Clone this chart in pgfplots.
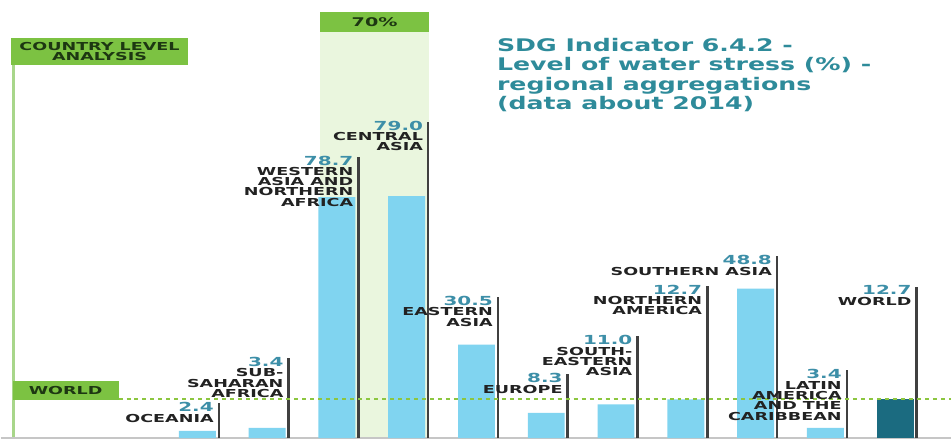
\documentclass[border=0pt]{standalone}
\usepackage{pgfplots}
\pgfplotsset{compat=1.18}
\usepackage{pgfplotstable}
\usepackage{fontspec}
\setmainfont{DejaVu Sans}
\newfontfamily\labfont{DejaVu Sans}[FakeStretch=1.6]
\newfontfamily\titfont{DejaVu Sans}[FakeStretch=1.45]
\definecolor{barblue}{RGB}{128,212,240}
\definecolor{worldbar}{RGB}{27,107,128}
\definecolor{boxgreen}{RGB}{124,194,66}
\definecolor{bandgreen}{RGB}{234,246,222}
\definecolor{polegreen}{RGB}{168,214,138}
\definecolor{dotgreen}{RGB}{140,198,63}
\definecolor{titteal}{RGB}{46,139,154}
\definecolor{numteal}{RGB}{61,143,168}
\definecolor{linegray}{RGB}{64,64,64}
\definecolor{labdark}{RGB}{34,34,34}
\definecolor{boxtext}{RGB}{29,55,18}

\pgfplotstableread{
x val top
0 2.4 11.4
1 3.4 26.1
2 78.7 91.9
3 79.0 103.3
4 30.5 46.0
5 8.3 20.8
6 11.0 33.2
7 12.7 49.8
8 48.8 59.3
9 3.4 22.1
}\regions
\pgfplotstableread{
x val top
10 12.7 49.5
}\world

\tikzset{lab/.style={anchor=north east, inner sep=0pt, align=right, xshift=-5pt, yshift=1pt,
  font=\labfont\bfseries\fontsize{11}{10.3}\selectfont, text=labdark}}
\newcommand{\num}[1]{{\fontsize{12.5}{10.3}\selectfont\color{numteal}#1}}

\begin{document}
\begin{tikzpicture}
\begin{axis}[scale only axis, width=952pt, height=441pt,
  xmin=-2.818, xmax=10.801, ymin=-0.651, ymax=143.0,
  axis lines=none, ticks=none, clip=false]
% background to fix bounding box
\fill[white] (rel axis cs:0,0) rectangle (rel axis cs:1,1);
% 70% band
\fill[bandgreen] (axis cs:1.76,0) rectangle (axis cs:3.32,132.6);
\fill[boxgreen] (axis cs:1.76,132.6) rectangle (axis cs:3.32,139.1);
\node[font=\labfont\bfseries\fontsize{12}{12}\selectfont, text=boxtext, inner sep=0]
  at (axis cs:2.54,135.85) {70\%};
% country level flag
\draw[polegreen, line width=3pt] (axis cs:-2.632,0) -- (axis cs:-2.632,125);
\fill[boxgreen] (axis cs:-2.675,121.8) rectangle (axis cs:-0.129,130.6);
\node[font=\labfont\bfseries\fontsize{11}{9.5}\selectfont, text=boxtext, inner sep=0, align=center]
  at (axis cs:-1.402,126.2) {COUNTRY LEVEL\\ANALYSIS};
% baseline
\draw[gray!45, line width=1.5pt] (axis cs:-2.818,0) -- (axis cs:10.801,0);
% bars
\addplot[ybar, bar width=37pt, bar shift=0pt, fill=barblue, draw=none] table[x=x,y=val]{\regions};
\addplot[ybar, bar width=37pt, bar shift=0pt, fill=worldbar, draw=none] table[x=x,y=val]{\world};
% vertical label lines
\addplot[ycomb, no markers, draw=linegray, line width=2.5pt] table[x expr=\thisrow{x}+0.308, y=top]{\regions};
\addplot[ycomb, no markers, draw=linegray, line width=2.5pt] table[x expr=\thisrow{x}+0.308, y=top]{\world};
% world level line and box
\addplot[dotgreen, line width=2pt, dash pattern=on 4pt off 4pt, no markers] coordinates {(-1.13,12.7) (10.801,12.7)};
\fill[boxgreen] (axis cs:-2.647,12.4) rectangle (axis cs:-1.130,18.6);
\node[font=\labfont\bfseries\fontsize{11}{11}\selectfont, text=boxtext, inner sep=0]
  at (axis cs:-1.888,15.5) {WORLD};
% labels
\node[lab] at (axis cs:0.308,11.4) {\num{2.4}\\OCEANIA};
\node[lab] at (axis cs:1.308,26.1) {\num{3.4}\\SUB-\\SAHARAN\\AFRICA};
\node[lab] at (axis cs:2.308,91.9) {\num{78.7}\\WESTERN\\ASIA AND\\NORTHERN\\AFRICA};
\node[lab] at (axis cs:3.308,103.3) {\num{79.0}\\CENTRAL\\ASIA};
\node[lab] at (axis cs:4.308,46.0) {\num{30.5}\\EASTERN\\ASIA};
\node[lab] at (axis cs:5.308,20.8) {\num{8.3}\\EUROPE};
\node[lab] at (axis cs:6.308,33.2) {\num{11.0}\\SOUTH-\\EASTERN\\ASIA};
\node[lab] at (axis cs:7.308,49.8) {\num{12.7}\\NORTHERN\\AMERICA};
\node[lab] at (axis cs:8.308,59.3) {\num{48.8}\\SOUTHERN ASIA};
\node[lab] at (axis cs:9.308,22.1) {\num{3.4}\\LATIN\\AMERICA\\AND THE\\CARIBBEAN};
\node[lab] at (axis cs:10.308,49.5) {\num{12.7}\\WORLD};
% title
\node[anchor=north west, inner sep=0, align=left, font=\titfont\bfseries\fontsize{17.4}{19.5}\selectfont, text=titteal]
  at (axis cs:4.292,130.6) {SDG Indicator 6.4.2 -\\Level of water stress (\%) -\\regional aggregations\\(data about 2014)};
\end{axis}
\end{tikzpicture}
\end{document}
